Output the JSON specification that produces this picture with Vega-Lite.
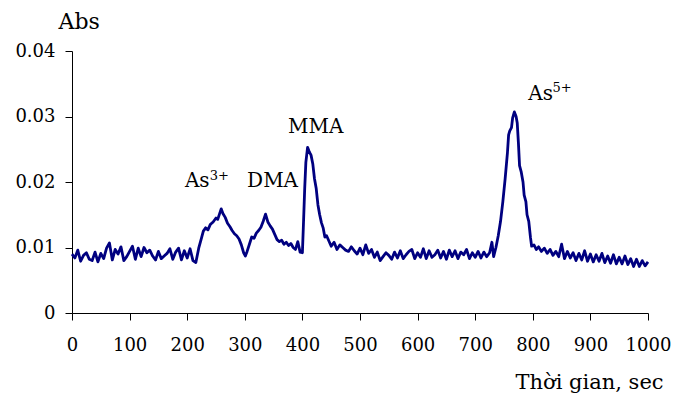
{
  "$schema": "https://vega.github.io/schema/vega-lite/v6.json",
  "width": 576,
  "height": 262,
  "autosize": "none",
  "padding": {"left": 72, "top": 51, "right": 26, "bottom": 81},
  "background": "white",
  "config": {
    "view": {"stroke": null},
    "font": "DejaVu Serif",
    "axis": {"grid": false, "domainColor": "#000", "tickColor": "#000", "labelColor": "#000", "titleColor": "#000", "labelFont": "DejaVu Serif", "titleFont": "DejaVu Serif", "titleFontWeight": "normal"}
  },
  "datasets": {
    "sig": [
      {"t":0,"a":0.0090},{"t":5,"a":0.0084},{"t":10,"a":0.0096},{"t":15,"a":0.0079},{"t":20,"a":0.0088},{"t":25,"a":0.0092},{"t":30,"a":0.0082},{"t":35,"a":0.0080},{"t":40,"a":0.0093},{"t":45,"a":0.0078},
      {"t":50,"a":0.0091},{"t":55,"a":0.0083},{"t":60,"a":0.0099},{"t":65,"a":0.0107},{"t":70,"a":0.0081},{"t":75,"a":0.0097},{"t":80,"a":0.0090},{"t":85,"a":0.0101},{"t":90,"a":0.0080},{"t":95,"a":0.0086},
      {"t":100,"a":0.0094},{"t":105,"a":0.0102},{"t":110,"a":0.0082},{"t":115,"a":0.0099},{"t":120,"a":0.0086},{"t":125,"a":0.0100},{"t":130,"a":0.0092},{"t":135,"a":0.0096},{"t":140,"a":0.0087},{"t":145,"a":0.0081},
      {"t":150,"a":0.0094},{"t":155,"a":0.0083},{"t":160,"a":0.0087},{"t":165,"a":0.0091},{"t":170,"a":0.0098},{"t":175,"a":0.0082},{"t":180,"a":0.0093},{"t":185,"a":0.0099},{"t":190,"a":0.0081},{"t":195,"a":0.0095},
      {"t":200,"a":0.0084},{"t":205,"a":0.0098},{"t":210,"a":0.0080},{"t":215,"a":0.0077},{"t":220,"a":0.0099},{"t":225,"a":0.0115},{"t":228,"a":0.0125},{"t":232,"a":0.0130},{"t":236,"a":0.0127},{"t":240,"a":0.0135},
      {"t":245,"a":0.0139},{"t":250,"a":0.0145},{"t":253,"a":0.0143},{"t":256,"a":0.0151},{"t":259,"a":0.0159},{"t":262,"a":0.0152},{"t":266,"a":0.0146},{"t":270,"a":0.0137},{"t":274,"a":0.0132},{"t":278,"a":0.0126},
      {"t":282,"a":0.0121},{"t":286,"a":0.0118},{"t":290,"a":0.0113},{"t":294,"a":0.0104},{"t":298,"a":0.0092},{"t":301,"a":0.0087},{"t":304,"a":0.0094},{"t":308,"a":0.0105},{"t":312,"a":0.0116},{"t":316,"a":0.0114},
      {"t":320,"a":0.0122},{"t":324,"a":0.0126},{"t":328,"a":0.0131},{"t":332,"a":0.0140},{"t":336,"a":0.0151},{"t":340,"a":0.0139},{"t":344,"a":0.0133},{"t":348,"a":0.0128},{"t":352,"a":0.0120},{"t":356,"a":0.0112},
      {"t":360,"a":0.0109},{"t":364,"a":0.0111},{"t":368,"a":0.0105},{"t":372,"a":0.0108},{"t":376,"a":0.0103},{"t":380,"a":0.0106},{"t":384,"a":0.0100},{"t":388,"a":0.0097},{"t":392,"a":0.0109},{"t":396,"a":0.0093},
      {"t":400,"a":0.0092},{"t":402,"a":0.0140},{"t":404,"a":0.0190},{"t":406,"a":0.0230},{"t":409,"a":0.0253},{"t":412,"a":0.0246},{"t":415,"a":0.0241},{"t":418,"a":0.0228},{"t":421,"a":0.0205},{"t":424,"a":0.0190},
      {"t":427,"a":0.0165},{"t":430,"a":0.0150},{"t":433,"a":0.0138},{"t":436,"a":0.0130},{"t":439,"a":0.0116},{"t":442,"a":0.0118},{"t":446,"a":0.0110},{"t":450,"a":0.0102},{"t":455,"a":0.0108},{"t":460,"a":0.0097},
      {"t":465,"a":0.0104},{"t":470,"a":0.0100},{"t":475,"a":0.0096},{"t":480,"a":0.0094},{"t":485,"a":0.0101},{"t":490,"a":0.0095},{"t":495,"a":0.0090},{"t":500,"a":0.0099},{"t":505,"a":0.0089},{"t":510,"a":0.0104},
      {"t":515,"a":0.0091},{"t":520,"a":0.0097},{"t":525,"a":0.0085},{"t":530,"a":0.0093},{"t":535,"a":0.0080},{"t":540,"a":0.0086},{"t":545,"a":0.0092},{"t":550,"a":0.0088},{"t":555,"a":0.0082},{"t":560,"a":0.0093},
      {"t":565,"a":0.0084},{"t":570,"a":0.0095},{"t":575,"a":0.0083},{"t":580,"a":0.0089},{"t":585,"a":0.0094},{"t":590,"a":0.0097},{"t":595,"a":0.0083},{"t":600,"a":0.0092},{"t":605,"a":0.0085},{"t":610,"a":0.0098},
      {"t":615,"a":0.0083},{"t":620,"a":0.0095},{"t":625,"a":0.0085},{"t":630,"a":0.0089},{"t":635,"a":0.0096},{"t":640,"a":0.0084},{"t":645,"a":0.0094},{"t":650,"a":0.0082},{"t":655,"a":0.0096},{"t":660,"a":0.0086},
      {"t":665,"a":0.0095},{"t":670,"a":0.0083},{"t":675,"a":0.0093},{"t":680,"a":0.0089},{"t":685,"a":0.0097},{"t":690,"a":0.0083},{"t":695,"a":0.0092},{"t":700,"a":0.0085},{"t":705,"a":0.0094},{"t":710,"a":0.0084},
      {"t":715,"a":0.0093},{"t":720,"a":0.0086},{"t":725,"a":0.0092},{"t":729,"a":0.0108},{"t":732,"a":0.0086},{"t":736,"a":0.0100},{"t":740,"a":0.0118},{"t":744,"a":0.0140},{"t":748,"a":0.0170},{"t":752,"a":0.0205},
      {"t":756,"a":0.0245},{"t":758,"a":0.0272},{"t":760,"a":0.0278},{"t":763,"a":0.0283},{"t":765,"a":0.0298},{"t":768,"a":0.0307},{"t":771,"a":0.0300},{"t":773,"a":0.0290},{"t":775,"a":0.0260},{"t":777,"a":0.0225},
      {"t":780,"a":0.0215},{"t":783,"a":0.0200},{"t":785,"a":0.0180},{"t":788,"a":0.0170},{"t":790,"a":0.0150},{"t":793,"a":0.0140},{"t":796,"a":0.0115},{"t":798,"a":0.0102},{"t":802,"a":0.0104},{"t":806,"a":0.0097},
      {"t":810,"a":0.0101},{"t":815,"a":0.0094},{"t":820,"a":0.0099},{"t":825,"a":0.0091},{"t":830,"a":0.0097},{"t":835,"a":0.0088},{"t":840,"a":0.0094},{"t":845,"a":0.0086},{"t":850,"a":0.0105},{"t":855,"a":0.0083},
      {"t":860,"a":0.0094},{"t":865,"a":0.0084},{"t":870,"a":0.0092},{"t":875,"a":0.0080},{"t":880,"a":0.0091},{"t":885,"a":0.0081},{"t":890,"a":0.0095},{"t":895,"a":0.0079},{"t":900,"a":0.0090},{"t":905,"a":0.0078},
      {"t":910,"a":0.0089},{"t":915,"a":0.0079},{"t":920,"a":0.0091},{"t":925,"a":0.0077},{"t":930,"a":0.0087},{"t":935,"a":0.0076},{"t":940,"a":0.0089},{"t":945,"a":0.0075},{"t":950,"a":0.0085},{"t":955,"a":0.0075},
      {"t":960,"a":0.0087},{"t":965,"a":0.0074},{"t":970,"a":0.0083},{"t":975,"a":0.0071},{"t":980,"a":0.0082},{"t":985,"a":0.0071},{"t":990,"a":0.0080},{"t":995,"a":0.0072},{"t":1000,"a":0.0078}
    ],
    "labels": [
      {"t":196,"a":0.01924,"txt":"As","size":20},
      {"t":239,"a":0.0203,"txt":"3+","size":13},
      {"t":304,"a":0.01924,"txt":"DMA","size":20},
      {"t":375,"a":0.02748,"txt":"MMA","size":20},
      {"t":792,"a":0.03252,"txt":"As","size":20},
      {"t":834,"a":0.03374,"txt":"5+","size":13}
    ]
  },
  "layer": [
    {
      "data": {"name": "sig"},
      "mark": {"type": "line", "color": "#000080", "strokeWidth": 2.8, "strokeJoin": "round"},
      "encoding": {
        "x": {"field": "t", "type": "quantitative", "scale": {"domain": [0, 1000]},
          "axis": {"values": [0,100,200,300,400,500,600,700,800,900,1000], "format": "d", "tickSize": 7, "labelFontSize": 18, "labelPadding": 16, "labelFlush": false,
            "title": "Thời gian, sec", "titleFontSize": 21, "titleAlign": "left", "titleBaseline": "alphabetic", "titleX": 443, "titleY": 75, "titleAnchor": null}},
        "y": {"field": "a", "type": "quantitative", "scale": {"domain": [0, 0.04]},
          "axis": {"values": [0,0.01,0.02,0.03,0.04], "format": "~g", "tickSize": 7, "labelFontSize": 18, "labelPadding": 10,
            "title": "Abs", "titleFontSize": 22, "titleAngle": 0, "titleAlign": "left", "titleBaseline": "alphabetic", "titleX": -14, "titleY": -23}}
      }
    },
    {
      "data": {"name": "labels"},
      "mark": {"type": "text", "align": "left", "baseline": "alphabetic", "font": "DejaVu Serif", "color": "#000"},
      "encoding": {
        "x": {"field": "t", "type": "quantitative"},
        "y": {"field": "a", "type": "quantitative"},
        "text": {"field": "txt"},
        "size": {"field": "size", "type": "quantitative", "scale": null}
      }
    }
  ]
}
